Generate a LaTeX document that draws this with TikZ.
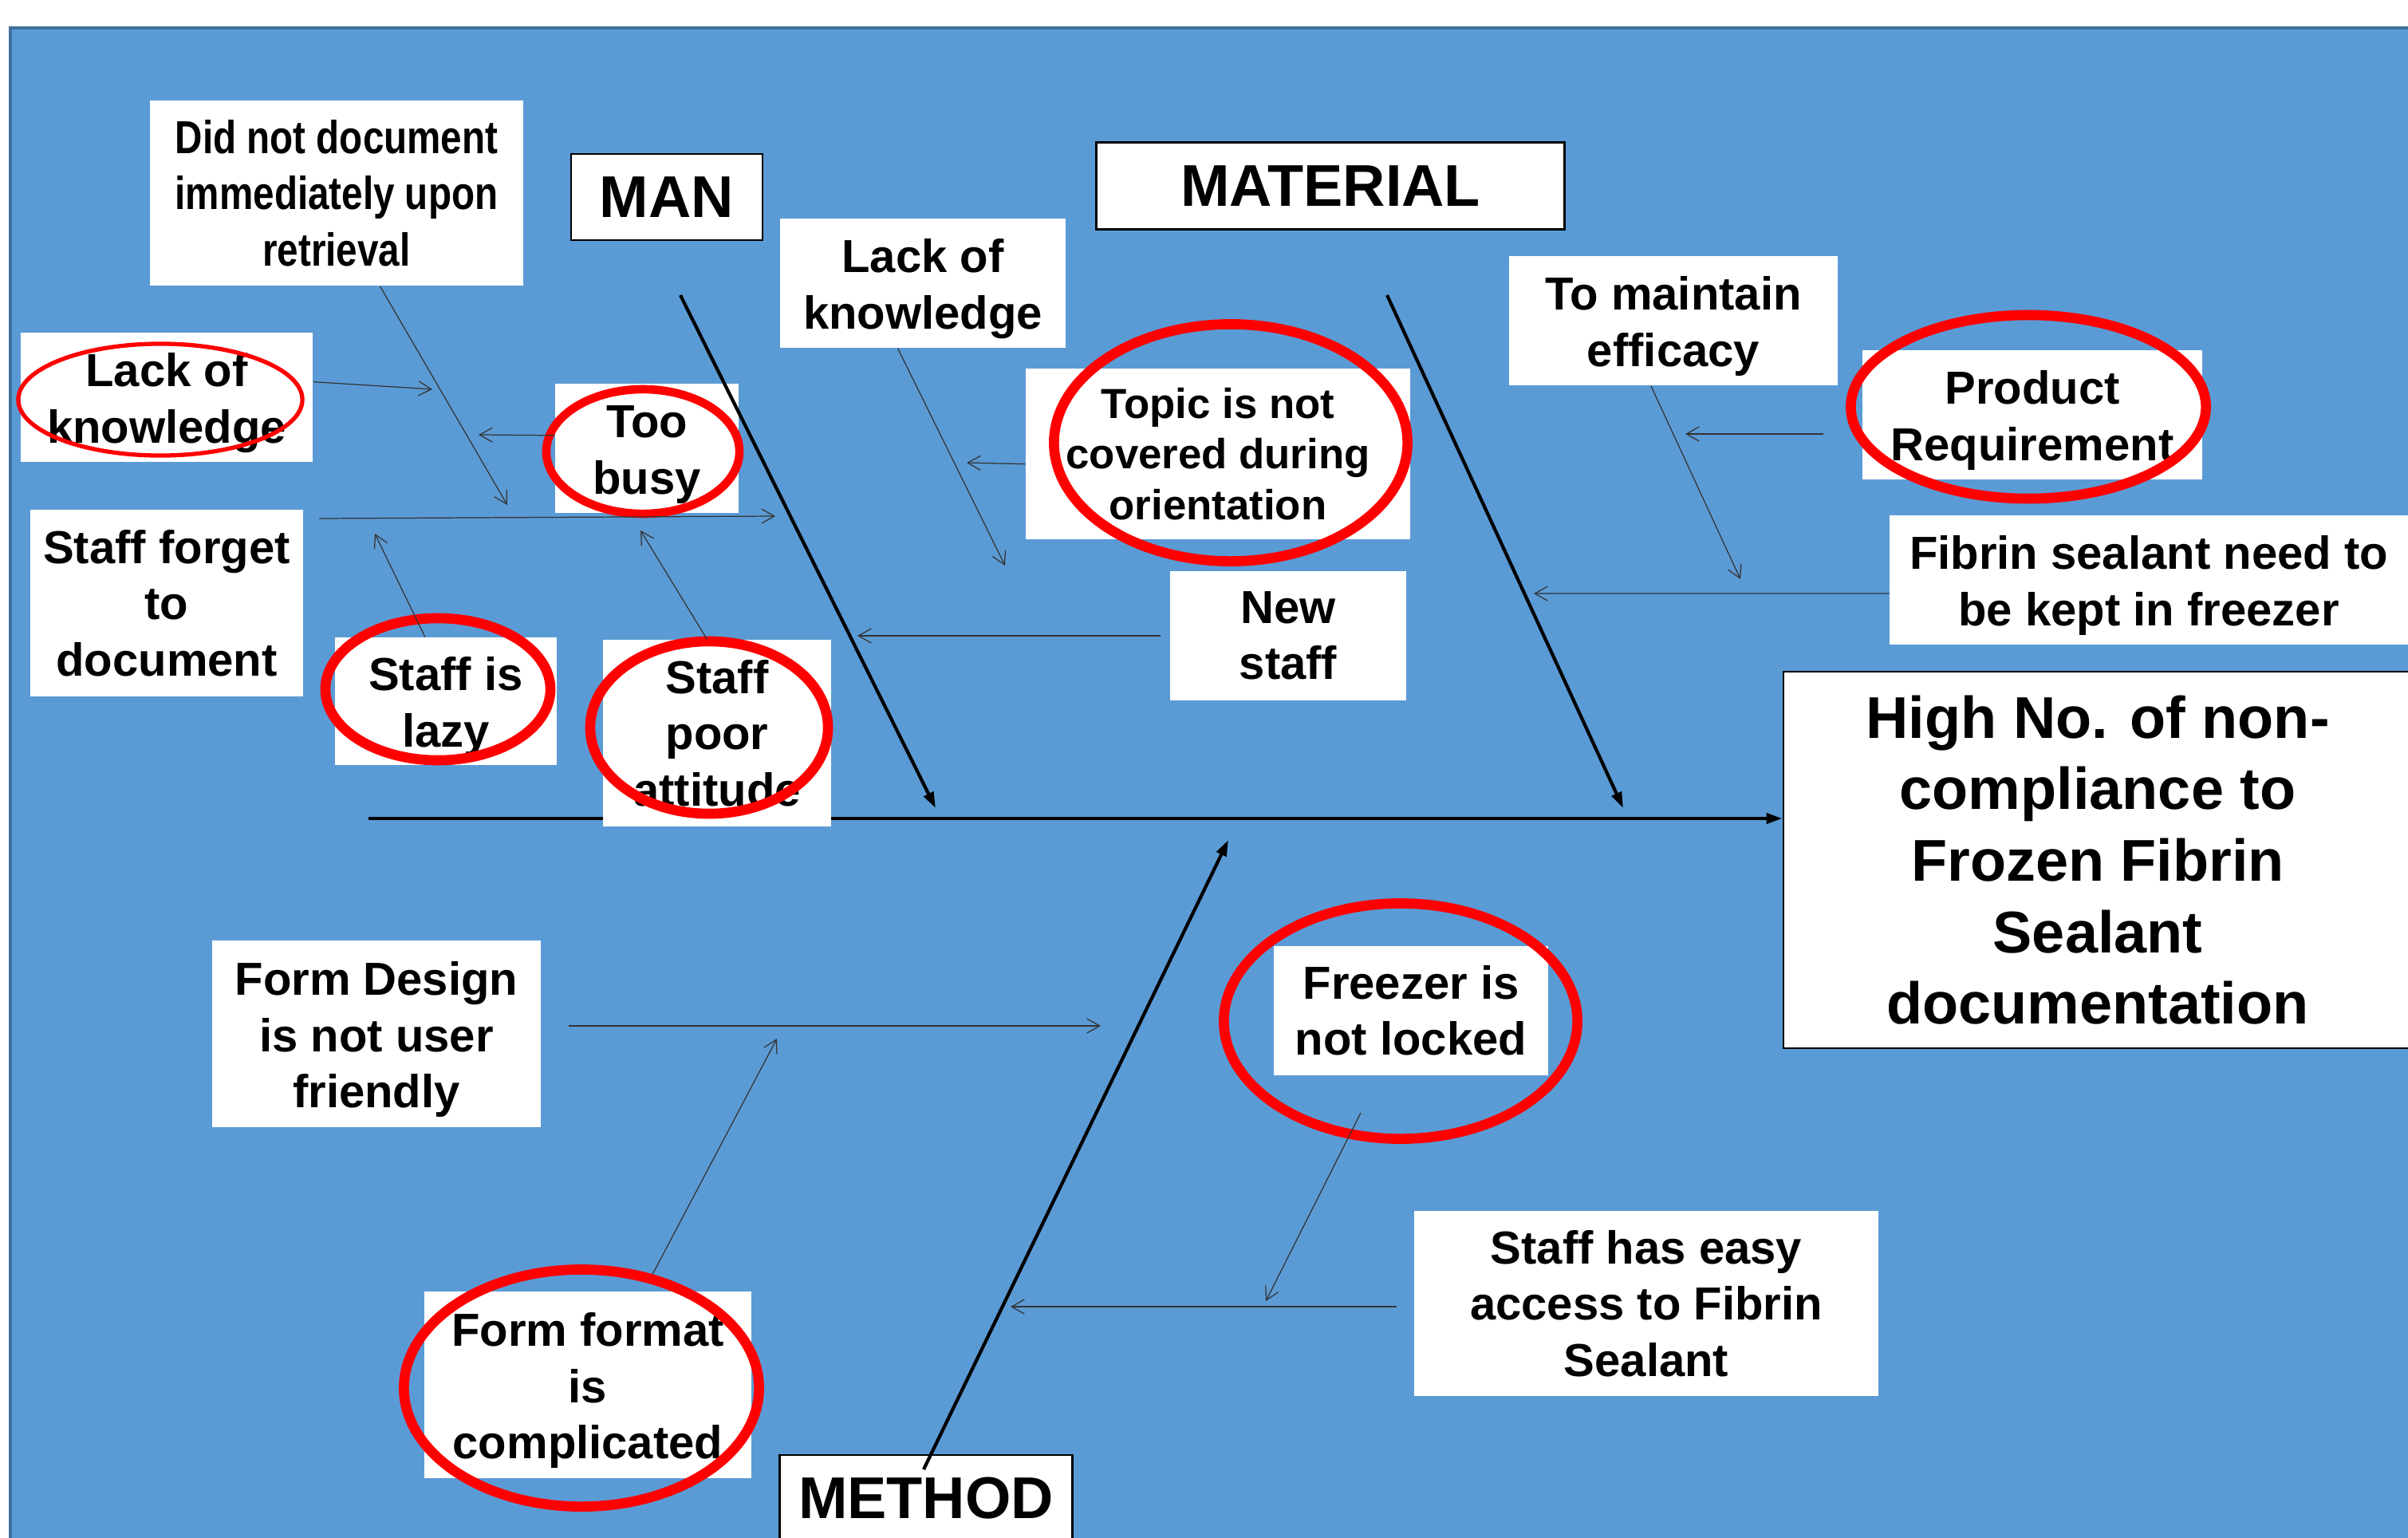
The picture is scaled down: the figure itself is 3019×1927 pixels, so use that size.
\documentclass[tikz,border=0pt]{standalone}
\usepackage{fontspec}
\setmainfont{Liberation Sans}
\newfontfamily\narrowfont{Liberation Sans}[FakeStretch=0.82]
\usetikzlibrary{arrows.meta,shapes.geometric}
\definecolor{bgblue}{HTML}{5B9BD5}
\definecolor{bgedge}{HTML}{41719C}
\newcommand\liftline{\rule{0pt}{16pt}}

\begin{document}
\begin{tikzpicture}[
		x=0.01cm, y=-0.01cm,
		wh/.style 2 args={minimum width=#1cm, minimum height=#2cm},
		cause/.style={fill=white, inner sep=0pt, align=center, font=\bfseries\fontsize{16.5}{20}\selectfont},
		header/.style={draw, fill=white, line width=0.8pt, inner sep=0pt, font=\bfseries\fontsize{21}{25}\selectfont},
		ring/.style={ellipse, draw=red, line width=3.6pt, inner sep=0pt},
		bone/.style={line width=1.2pt, -{Triangle[length=0.2cm,width=0.13cm]}},
		twig/.style={draw=black!80, line width=0.35pt, -{Straight Barb[length=0.16cm,width=0.18cm]}}
	]
	\useasboundingbox (0,0) rectangle (3019,1927);
	\clip (0,0) rectangle (3019,1927);
	\fill[white] (0,0) rectangle (3019,1927);
	\draw[fill=bgblue, draw=bgedge, line width=1pt] (13,35) rectangle (3040,1950);

	\coordinate (spineS) at (462,1026);
	\coordinate (manS) at (853,370);
	\coordinate (manE) at (1173,1013);
	\coordinate (matS) at (1739,370);
	\coordinate (matE) at (2035,1013);
	\coordinate (methS) at (1158,1842);
	\coordinate (methE) at (1540,1053);

	\node[cause, draw, line width=0.7pt, wh={7.88}{4.72}, font=\bfseries\fontsize{21}{25.5}\selectfont] (effect) at (2630,1078) {High No. of non-\\compliance to\\Frozen Fibrin\\Sealant\\documentation};
	\draw[bone] (spineS) -- (spineS -| effect.west);

	\node[header, wh={2.40}{1.08}] (man) at (836,247) {MAN};
	\node[header, wh={5.87}{1.09}] (material) at (1668,233) {MATERIAL};
	\node[header, wh={3.67}{1.08}] (method) at (1161,1878) {METHOD};

	\node[cause, wh={4.68}{2.32}, font=\narrowfont\bfseries\fontsize{16.5}{20}\selectfont] (didnot) at (422,242) {Did not document\\immediately upon\\retrieval};
	\node[cause, wh={3.66}{1.61}] (lackL) at (209,498) {\liftline Lack of\\knowledge};
	\node[cause, wh={2.29}{1.62}] (busy) at (811,562) {\liftline Too\\busy};
	\node[cause, wh={3.42}{2.33}] (forget) at (209,756) {Staff forget\\to\\document};
	\node[cause, wh={2.77}{1.60}] (lazy) at (559,879) {\liftline Staff is\\lazy};
	\node[cause, wh={2.86}{2.33}] (poor) at (899,919) {Staff\\poor\\attitude};
	\node[cause, wh={3.57}{1.62}] (lackM) at (1157,355) {\liftline Lack of\\knowledge};
	\node[cause, wh={4.82}{2.14}, font=\bfseries\fontsize{15}{18}\selectfont] (topic) at (1527,569) {Topic is not\\covered during\\orientation};
	\node[cause, wh={2.96}{1.62}] (newstaff) at (1615,797) {New\\staff};
	\node[cause, wh={4.12}{1.62}] (maintain) at (2098,402) {\liftline To maintain\\efficacy};
	\node[cause, wh={4.26}{1.61}] (product) at (2548,520) {\liftline Product\\Requirement};
	\node[cause, wh={6.49}{1.62}] (fibrin) at (2694,727) {\liftline Fibrin sealant need to\\be kept in freezer};
	\node[cause, wh={4.11}{2.33}] (design) at (472,1296) {\liftline Form Design\\is not user\\friendly};
	\node[cause, wh={4.10}{2.33}] (format) at (737,1736) {\liftline Form format\\is\\complicated};
	\node[cause, wh={3.43}{1.62}] (freezer) at (1769,1267) {Freezer is\\not locked};
	\node[cause, wh={5.81}{2.32}] (access) at (2064,1634) {Staff has easy\\access to Fibrin\\Sealant};

	\draw[bone] (manS) -- (manE);
	\draw[bone] (matS) -- (matE);
	\draw[bone] (methS) -- (methE);

	\node[ring, line width=1.5pt, wh={3.56}{1.40}] (lackLRing) at (201,501) {};
	\node[ring, line width=3pt, wh={2.42}{1.56}] (busyRing) at (806,566) {};
	\node[ring, wh={2.82}{1.78}] (lazyRing) at (549,864) {};
	\node[ring, wh={2.98}{2.16}] (poorRing) at (889,912) {};
	\node[ring, wh={4.43}{2.97}] (topicRing) at (1543,555) {};
	\node[ring, wh={4.45}{2.30}] (productRing) at (2543,510) {};
	\node[ring, wh={4.45}{2.97}] (formatRing) at (729,1740) {};
	\node[ring, wh={4.43}{2.95}] (freezerRing) at (1756,1280) {};

	\coordinate (didnotE) at (636,633);
	\coordinate (lackLE) at (542,488);
	\coordinate (busyE) at (600,545);
	\coordinate (forgetS) at (400,650);
	\coordinate (forgetE) at (972,647);
	\coordinate (lazyE) at (470,669);
	\coordinate (poorE) at (803,665);
	\coordinate (lackME) at (1260,709);
	\coordinate (topicE) at (1212,580);
	\coordinate (newstaffE) at (1075,797);
	\coordinate (maintainE) at (2182,726);
	\coordinate (productS) at (2286,544);
	\coordinate (productE) at (2113,544);
	\coordinate (fibrinE) at (1923,744);
	\coordinate (designS) at (713,1286);
	\coordinate (designE) at (1380,1286);
	\coordinate (formatE) at (974,1302);
	\coordinate (freezerS) at (1706,1395);
	\coordinate (freezerE) at (1587,1631);
	\coordinate (accessS) at (1751,1638);
	\coordinate (accessE) at (1267,1638);

	\draw[twig] (didnot.-65) -- (didnotE);
	\draw[twig] (lackL.6) -- (lackLE);
	\draw[twig] (busy.172) -- (busyE);
	\draw[twig] (forgetS) -- (forgetE);
	\draw[twig] (lazy.108) -- (lazyE);
	\draw[twig] (poor.96) -- (poorE);
	\draw[twig] (lackM.-111) -- (lackME);
	\draw[twig] (topic.183) -- (topicE);
	\draw[twig, shorten <=0.11cm] (newstaff.west) -- (newstaffE);
	\draw[twig] (maintain.-109) -- (maintainE);
	\draw[twig] (productS) -- (productE);
	\draw[twig] (fibrin.183) -- (fibrinE);
	\draw[twig] (designS) -- (designE);
	\draw[twig] (formatRing.58) -- (formatE);
	\draw[twig] (freezerS) -- (freezerE);
	\draw[twig] (accessS) -- (accessE);
\end{tikzpicture}
\end{document}
